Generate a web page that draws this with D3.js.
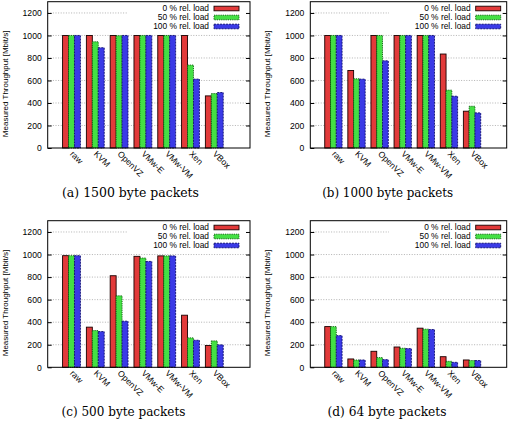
<!DOCTYPE html>
<html><head><meta charset="utf-8">
<script src="https://cdn.jsdelivr.net/npm/d3@7"></script>
<style>body{margin:0;background:#fff} svg{display:block}</style>
</head><body>
<svg id="c" width="513" height="428"></svg>
<script>
const categories = ["raw", "KVM", "OpenVZ", "VMw-E", "VMw-VM", "Xen", "VBox"];
const seriesLabels = ["0 % rel. load", "50 % rel. load", "100 % rel. load"];
const yTickValues = [0, 200, 400, 600, 800, 1000, 1200];
const yAxisTitle = "Measured Throughput [Mbit/s]";
const captions = ["(a) 1500 byte packets", "(b) 1000 byte packets", "(c) 500 byte packets", "(d) 64 byte packets"];

const a_load0   = [1000, 1000, 1000, 1000, 1000, 1000, 463];
const a_load50  = [1000, 944, 998, 1000, 1000, 737, 484];
const a_load100 = [1000, 891, 1000, 1000, 1000, 612, 493];

const b_load0   = [1000, 689, 1000, 1000, 1000, 835, 327];
const b_load50  = [1000, 615, 1000, 1000, 1000, 514, 371];
const b_load100 = [1000, 612, 775, 1000, 1000, 460, 312];

const c_load0   = [990, 356, 812, 984, 988, 462, 193];
const c_load50  = [990, 326, 634, 969, 988, 261, 234];
const c_load100 = [990, 317, 409, 939, 988, 240, 199];

const d_load0   = [361, 74, 142, 180, 347, 94, 65];
const d_load50  = [361, 65, 86, 169, 338, 53, 60];
const d_load100 = [281, 65, 68, 166, 335, 44, 60];

const panelData = [
  [a_load0, a_load50, a_load100],
  [b_load0, b_load50, b_load100],
  [c_load0, c_load50, c_load100],
  [d_load0, d_load50, d_load100]
];

// layout (positions / sizes, not data)
const layout = [
  {left: 47.7, right: 250, top: 1.7, bottom: 148, legInset: 11, boxW: 122, capX: 130.5, capY: 197, capW: 137},
  {left: 310.3, right: 506.7, top: 1.7, bottom: 148, legInset: 6, boxW: 117.7, capX: 387.7, capY: 197, capW: 131},
  {left: 47.7, right: 250, top: 220.7, bottom: 367.3, legInset: 11, boxW: 122, capX: 123.5, capY: 415.7, capW: 124},
  {left: 310.3, right: 506.7, top: 220.7, bottom: 367.3, legInset: 6, boxW: 117.7, capX: 387, capY: 415.7, capW: 119}
];
const styles = [
  {fill: "#e23a3a", stroke: "#1a0000", dash: null},
  {fill: "#44e044", stroke: "#0d5a0d", dash: "1.2,1"},
  {fill: "#3a3ae6", stroke: "#0e0e70", dash: "2,1"}
];
const sansFont = "'Liberation Sans', Arial, Helvetica, sans-serif";
const boxWidth = 0.25;

const svg = d3.select("#c");

panelData.forEach((series, pi) => {
  const L = layout[pi];
  const x = d3.scaleLinear().domain([-1, 7.5]).range([L.left, L.right]);
  const y = d3.scaleLinear().domain([0, 1300]).range([L.bottom, L.top]);
  const g = svg.append("g");

  // grid
  g.append("g").selectAll("line").data(yTickValues.filter(v => v > 0)).join("line")
    .attr("x1", L.left).attr("x2", L.right)
    .attr("y1", d => y(d)).attr("y2", d => y(d))
    .attr("stroke", "#a0a0a0").attr("stroke-width", 0.8)
    .attr("stroke-dasharray", "1,1.6");

  // legend background
  g.append("rect").attr("x", L.right - L.boxW).attr("y", L.top + 0.5)
    .attr("width", L.boxW - 0.5).attr("height", 30).attr("fill", "#fff");

  // bars
  series.forEach((vals, si) => {
    const st = styles[si];
    g.append("g").selectAll("rect").data(vals).join("rect")
      .attr("x", (d, i) => x(i + (si - 1) * boxWidth - boxWidth / 2))
      .attr("width", x(boxWidth) - x(0))
      .attr("y", d => y(d))
      .attr("height", d => y(0) - y(d))
      .attr("fill", st.fill)
      .attr("stroke", st.stroke).attr("stroke-width", 0.9)
      .attr("stroke-dasharray", st.dash);
  });

  // axes ticks
  const ax = d3.axisLeft(y).tickValues(yTickValues).tickFormat(d3.format("d"))
    .tickSizeInner(-4).tickSizeOuter(0).tickPadding(6);
  const gl = g.append("g").attr("transform", `translate(${L.left},0)`).call(ax);
  gl.select(".domain").remove();
  gl.selectAll("line").attr("stroke", "#000");
  gl.selectAll("text").attr("font-family", sansFont).attr("font-size", "8.6px").attr("fill", "#000");
  const axr = d3.axisRight(y).tickValues(yTickValues.filter(v => v > 0)).tickSizeInner(-4).tickSizeOuter(0).tickFormat("");
  const gr = g.append("g").attr("transform", `translate(${L.right},0)`).call(axr);
  gr.select(".domain").remove();
  gr.selectAll("line").attr("stroke", "#000");

  // frame
  g.append("rect").attr("x", L.left).attr("y", L.top)
    .attr("width", L.right - L.left).attr("height", L.bottom - L.top)
    .attr("fill", "none").attr("stroke", "#000").attr("stroke-width", 1);

  // x labels
  g.append("g").selectAll("text").data(categories).join("text")
    .attr("transform", (d, i) => `translate(${x(i) - 2},${L.bottom + 6.5}) rotate(45)`)
    .attr("font-family", sansFont).attr("font-size", "8.6px")
    .attr("text-anchor", "start").text(d => d);

  // y title
  g.append("text")
    .attr("transform", `translate(${L.left - 40},${(L.top + L.bottom) / 2 + 9}) rotate(-90)`)
    .attr("text-anchor", "middle").attr("font-family", sansFont).attr("font-size", "8px")
    .text(yAxisTitle);

  // legend
  seriesLabels.forEach((lab, si) => {
    const st = styles[si];
    const ry = L.top + 6.8 + si * 9;
    const sx1 = L.right - L.legInset;
    const sx0 = sx1 - 25;
    g.append("rect").attr("x", sx0).attr("y", ry - 2.3).attr("width", 25).attr("height", 4.6)
      .attr("fill", st.fill).attr("stroke", st.stroke).attr("stroke-width", 0.9)
      .attr("stroke-dasharray", st.dash);
    g.append("text").attr("x", sx0 - 5).attr("y", ry).attr("dy", "0.35em")
      .attr("text-anchor", "end").attr("font-family", sansFont).attr("font-size", "8.4px")
      .text(lab);
  });

  // caption
  g.append("text").attr("x", L.capX).attr("y", L.capY)
    .attr("text-anchor", "middle").attr("font-family", "'DejaVu Serif', serif").attr("font-size", "12px")
    .attr("textLength", L.capW).attr("lengthAdjust", "spacingAndGlyphs")
    .text(captions[pi]);
});
</script>
</body></html>
